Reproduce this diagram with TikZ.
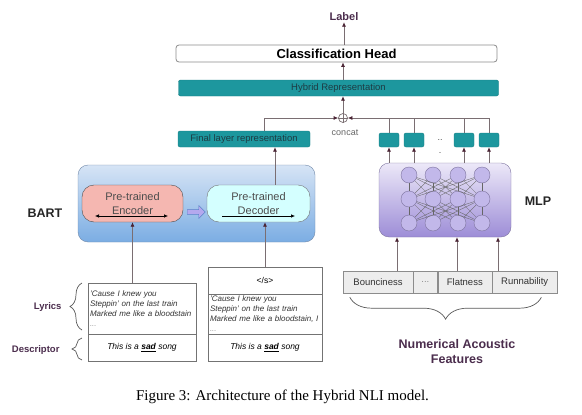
\documentclass[tikz,border=0pt]{standalone}
\usepackage{fontspec}
\setmainfont{Liberation Sans}
\newfontfamily\captionfont{Liberation Serif}
\usetikzlibrary{arrows.meta,shapes.arrows,decorations.pathreplacing,positioning}
\definecolor{tealfill}{HTML}{1D979E}
\definecolor{tealdraw}{HTML}{167E84}
\definecolor{tealtext}{HTML}{1E3C44}
\definecolor{labelpurple}{HTML}{4B2D4D}
\definecolor{linegray}{HTML}{7A6E72}
\definecolor{tipdark}{HTML}{4A2434}
\definecolor{cellgray}{HTML}{8C8C8C}
\definecolor{barttop}{HTML}{D6E4F5}
\definecolor{bartbottom}{HTML}{7BADE3}
\definecolor{bartdraw}{HTML}{7088A8}
\definecolor{mlptop}{HTML}{ECE8F8}
\definecolor{mlpbottom}{HTML}{9D8DD7}
\definecolor{mlpdraw}{HTML}{7E74A0}
\definecolor{neuronfill}{HTML}{C2B8EA}
\definecolor{encfill}{HTML}{F5B7B1}
\definecolor{decfill}{HTML}{D4FFFF}
\definecolor{fatfill}{HTML}{B4A8EE}
\definecolor{fatdraw}{HTML}{5B82C9}
\tikzset{
    head-label/.style = {text=labelpurple, font=\bfseries\fontsize{11}{13}\selectfont, inner sep=1pt},
    head-box/.style = {draw=cellgray, fill=white, line width=0.8pt, rounded corners=3pt, minimum width=321, minimum height=17, inner sep=0pt, font=\bfseries\fontsize{13}{15}\selectfont},
    teal-box/.style = {draw=tealdraw, fill=tealfill, rounded corners=2pt, inner sep=0pt, text=tealtext, font=\fontsize{9.5}{11}\selectfont},
    side-label/.style = {font=\bfseries\fontsize{12.5}{15}\selectfont, text=black!85},
    input-label/.style = {font=\bfseries\fontsize{9.5}{11}\selectfont, text=labelpurple, anchor=east},
    note/.style = {font=\fontsize{9}{11}\selectfont, text=black!60},
    bart-box/.style = {draw=bartdraw, top color=barttop, bottom color=bartbottom, rounded corners=10pt, minimum width=237, minimum height=77},
    mlp-box/.style = {draw=mlpdraw, top color=mlptop, bottom color=mlpbottom, rounded corners=10pt, minimum width=132, minimum height=74},
    coder-box/.style = {draw=black!70, rounded corners=12pt, minimum height=37, align=center, text=black!70, font=\fontsize{11}{13.5}\selectfont},
    neuron/.style = {circle, draw=mlpdraw, fill=neuronfill, minimum size=16, inner sep=0pt},
    mesh/.style = {draw=black!60, line width=0.35pt},
    feature-cell/.style = {draw=cellgray, fill=black!7, minimum height=22, inner sep=0pt, font=\fontsize{9.5}{11}\selectfont, text=black!80},
    input-cell/.style = {draw=black!55, fill=white, inner sep=2pt, outer sep=0pt},
    lyric-text/.style = {text width=104, align=left, font=\itshape\fontsize{8}{10}\selectfont, text=black!80},
    link/.style = {draw=linegray, line width=0.7pt},
    arrow-line/.style = {link, -{Latex[length=4.5pt,width=4pt,color=tipdark]}},
    brace-line/.style = {draw=black!65, line width=0.7pt, decorate},
}

\begin{document}
\begin{tikzpicture}[x=1pt,y=-1pt]
\useasboundingbox (0,0) rectangle (582,415);

\node[head-label] (label) at (344,17) {Label};
\node[head-box] (head) at (336.5,53.5) {Classification Head};
\node[teal-box, minimum width=320, minimum height=16] (hybrid) at (338.5,88) {Hybrid Representation};
\node[circle, draw=linegray, line width=0.7pt, minimum size=9, inner sep=0pt] (oplus) at (343,118) {};
\draw[link] (oplus.north) -- (oplus.south) (oplus.west) -- (oplus.east);
\node[note] (concat) at (345,133) {concat};

\node[teal-box, minimum width=132, minimum height=16] (final) at (244,139) {Final layer representation};
\foreach \name/\x in {s1/389, s2/414, s3/464, s4/489}
    \node[teal-box, minimum width=20, minimum height=14] (\name) at (\x,140) {};
\node[note, text=black!70] (dots) at (440,140) {..};
\node[note, text=black!70] (dot) at (440,153) {.};

% BART
\node[bart-box] (bart) at (196.5,203.5) {};
\node[side-label] (bart-label) at (45,213) {BART};
\node[coder-box, fill=encfill, minimum width=101] (enc) at (132.5,203.5) {Pre-trained\\Encoder};
\node[coder-box, draw=black!55, fill=decfill, minimum width=103] (dec) at (258.5,203.5) {Pre-trained\\Decoder};
\draw[black, line width=0.6pt, {Latex[length=4pt,width=3.5pt]}-{Latex[length=4pt,width=3.5pt]}] (enc.center) +(-37.5,12.5) -- +(35.5,12.5);
\draw[black, line width=0.6pt, -{Latex[length=4pt,width=3.5pt]}] (dec.center) +(-36.5,12.5) -- +(36.5,12.5);
\node[single arrow, draw=fatdraw, fill=fatfill, minimum height=18, minimum width=13, single arrow head extend=2pt, inner sep=1pt] (fat-arrow) at (195,212) {};

% MLP
\node[mlp-box] (mlp) at (445,200) {};
\foreach \r/\y in {1/175, 2/199, 3/223}
    \foreach \c/\x in {1/409, 2/433, 3/458, 4/482}
        \node[neuron] (n\r\c) at (\x,\y) {};
\foreach \r/\s in {1/2, 2/3}
    \foreach \a in {1,...,4}
        \foreach \b in {1,...,4}
            \draw[mesh] (n\r\a) -- (n\s\b);
\node[side-label] (mlp-label) at (538,201) {MLP};

% acoustic features
\node[feature-cell, minimum width=70] (f1) at (378,282) {Bounciness};
\node[feature-cell, minimum width=24, right=0pt of f1, text=black!45] (f2) {...};
\node[feature-cell, minimum width=54, right=0pt of f2] (f3) {Flatness};
\node[feature-cell, minimum width=65, right=0pt of f3] (f4) {Runnability};
\draw[brace-line, decoration={brace, amplitude=22pt}] ([xshift=-16,yshift=-4]f4.south east) -- ([xshift=7,yshift=-4]f1.south west);
\node[side-label, text=labelpurple, align=center] (acoustic) at (457,352) {Numerical Acoustic\\Features};

% inputs
\node[input-cell, lyric-text, minimum width=108, minimum height=51] (lyr1) at (142,308.5) {'Cause I knew you\\Steppin' on the last train\\Marked me like a bloodstain\\{\color{black!40}...}};
\node[input-cell, minimum width=108, minimum height=27, below=0pt of lyr1, font=\itshape\fontsize{8.5}{10}\selectfont] (desc1) {This is a \textbf{\underline{sad}} song};
\node[input-cell, minimum width=114, minimum height=27, font=\fontsize{8.5}{10}\selectfont] (sep2) at (265,280.5) {</s>};
\node[input-cell, lyric-text, text width=110, minimum width=114, minimum height=40, below=0pt of sep2] (lyr2) {'Cause I knew you\\Steppin' on the last train\\Marked me like a bloodstain, I\\{\color{black!40}...}};
\node[input-cell, minimum width=114, minimum height=27, below=0pt of lyr2, font=\itshape\fontsize{8.5}{10}\selectfont] (desc2) {This is a \textbf{\underline{sad}} song};
\node[input-label] (lyrics-label) at (65,307) {Lyrics};
\node[input-label] (desc-label) at (63,350) {Descriptor};
\draw[brace-line, decoration={brace, amplitude=12pt}] ([xshift=-6,yshift=4]lyr1.south west) -- ([xshift=-6]lyr1.north west);
\draw[brace-line, decoration={brace, amplitude=10pt}] ([xshift=-6,yshift=1]desc1.south west) -- ([xshift=-6,yshift=-4]desc1.north west);

% connectors
\draw[arrow-line] (enc.south |- lyr1.north) -- (enc.south);
\draw[arrow-line] (sep2.north) -- (sep2.north |- dec.south);
\draw[arrow-line] ([xshift=16.5]dec.north) -- ([xshift=16.5]dec.north |- final.south);
\draw[arrow-line] ([xshift=20]final.north) |- (oplus.west);
\draw[arrow-line] (s4.north) |- (oplus.east);
\foreach \name in {s1, s2, s3}
    \draw[link] (\name.north) -- (\name.north |- oplus.east);
\draw[arrow-line] (oplus.north) -- (oplus.north |- hybrid.south);
\draw[arrow-line] (oplus.north |- hybrid.north) -- (oplus.north |- head.south);
\draw[arrow-line] (label.south |- head.north) -- (label.south);
\foreach \name in {s1, s2, s3, s4}
    \draw[arrow-line] (\name.south |- mlp.north) -- (\name.south);
\foreach \dx in {-48, 12, 53}
    \draw[arrow-line] ([xshift=\dx]mlp.south |- f1.north) -- ([xshift=\dx]mlp.south);

\node[font=\captionfont\fontsize{15}{18}\selectfont] (caption) at (282.5,397) {Figure 3: Architecture of the Hybrid NLI model.};
\end{tikzpicture}
\end{document}
